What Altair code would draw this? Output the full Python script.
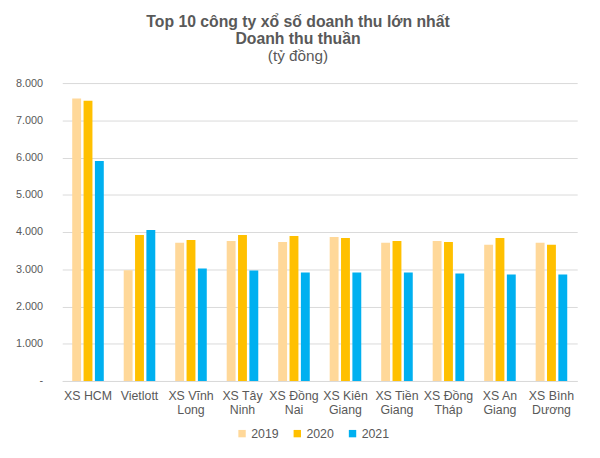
import altair as alt
import pandas as pd

companies = ["XS HCM", "Vietlott", "XS Vĩnh\nLong", "XS Tây\nNinh", "XS Đồng\nNai",
             "XS Kiên\nGiang", "XS Tiền\nGiang", "XS Đồng\nTháp", "XS An\nGiang", "XS Bình\nDương"]
years = ["2019", "2020", "2021"]
v2019 = [7584, 2975, 3709, 3762, 3735, 3868, 3709, 3762, 3656, 3709]
v2020 = [7523, 3920, 3788, 3920, 3894, 3841, 3762, 3735, 3841, 3656]
v2021 = [5907, 4053, 3020, 2967, 2914, 2914, 2914, 2887, 2861, 2861]
colors = ["#FFD899", "#FFC000", "#00B0F0"]

rows = []
for i, c in enumerate(companies):
    for y, vals in zip(years, [v2019, v2020, v2021]):
        rows.append({"company": c, "year": y, "value": vals[i]})
df = pd.DataFrame(rows)

grey = "#595959"
font = "Liberation Sans"

chart = alt.Chart(df).mark_bar().encode(
    x=alt.X("company:N", sort=companies,
            scale=alt.Scale(paddingInner=0.387, paddingOuter=0.1935),
            axis=alt.Axis(title=None, labelAngle=0, ticks=False,
                          domainColor="#D9D9D9", labelColor=grey, labelFont=font,
                          labelFontSize=12.5, labelPadding=9, labelLineHeight=14,
                          labelExpr="split(datum.label, '\\n')")),
    xOffset=alt.XOffset("year:N", scale=alt.Scale(paddingInner=0.217, paddingOuter=0)),
    y=alt.Y("value:Q", scale=alt.Scale(domain=[0, 8000]),
            axis=alt.Axis(title=None, values=[0, 1000, 2000, 3000, 4000, 5000, 6000, 7000, 8000],
                          ticks=False, domain=False, gridColor="#D9D9D9",
                          labelColor=grey, labelFont=font, labelFontSize=11, labelPadding=20,
                          labelExpr="datum.value == 0 ? '-' : replace(format(datum.value, ','), ',', '.')")),
    color=alt.Color("year:N", scale=alt.Scale(domain=years, range=colors),
                    legend=alt.Legend(title=None, orient="none", direction="horizontal",
                                      legendX=176, legendY=349, symbolType="square",
                                      symbolSize=56, symbolStrokeWidth=0, labelOffset=3,
                                      columnPadding=12, labelFont=font, labelFontSize=12.5,
                                      labelColor=grey)),
).properties(
    width=522, height=302,
    padding={"left": 55, "top": 73, "right": 15, "bottom": 75},
    autosize=alt.AutoSizeParams(type="none"),
    title=alt.TitleParams(
        text=["Top 10 công ty xổ số doanh thu lớn nhất", "Doanh thu thuần"],
        subtitle="(tỷ đồng)",
        font=font, fontSize=16, fontWeight="bold", color=grey, lineHeight=17,
        subtitleFont=font, subtitleFontSize=15.5, subtitleColor=grey, subtitlePadding=2,
        subtitleLineHeight=17,
        anchor="middle", dx=-22, offset=13,
    ),
).configure_view(stroke=None)

chart.save("out.html", embed_options={"renderer": "svg", "actions": False})
